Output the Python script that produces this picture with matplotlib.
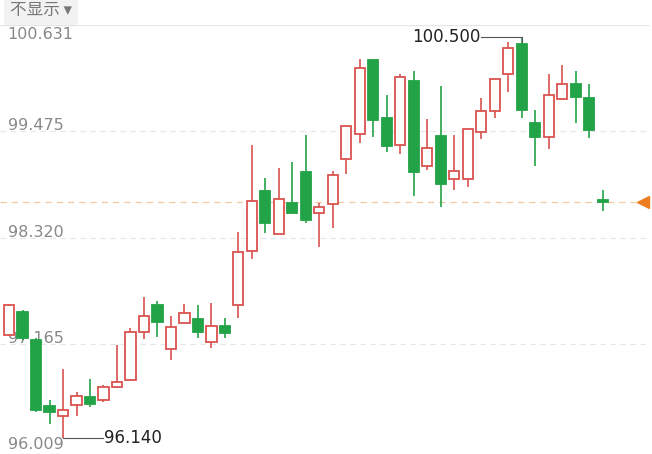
import numpy as np
import matplotlib.pyplot as plt
from matplotlib.patches import Rectangle

plt.rcParams['font.family'] = ['Noto Sans CJK SC', 'DejaVu Sans']

# OHLC
opens  = [97.263, 97.513, 97.208, 96.489, 96.380, 96.500, 96.587, 96.555, 96.695, 96.771,
          97.294, 97.590, 97.109, 97.392, 97.436, 97.185, 97.360, 97.590, 98.177, 98.831,
          98.362, 98.700, 99.027, 98.591, 98.679, 99.169, 99.442, 100.248, 99.616, 99.322,
          100.019, 99.093, 99.420, 98.951, 98.951, 99.463, 99.692, 100.096, 100.422, 99.561,
          99.409, 99.823, 99.987, 99.834, 98.733]
closes = [97.590, 97.230, 96.446, 96.424, 96.446, 96.598, 96.511, 96.695, 96.749, 97.294,
          97.469, 97.403, 97.349, 97.501, 97.294, 97.360, 97.283, 98.166, 98.722, 98.482,
          98.744, 98.591, 98.515, 98.657, 98.995, 99.529, 100.161, 99.594, 99.311, 100.063,
          99.027, 99.289, 98.907, 99.038, 99.496, 99.692, 100.041, 100.379, 99.703, 99.409,
          99.867, 99.987, 99.845, 99.485, 98.711]
highs  = [97.600, 97.535, 97.230, 96.555, 96.892, 96.640, 96.782, 96.717, 97.152, 97.338,
          97.676, 97.632, 97.469, 97.600, 97.590, 97.610, 97.447, 98.384, 99.322, 98.962,
          99.071, 99.136, 99.431, 98.700, 99.038, 99.529, 100.259, 100.248, 99.867, 100.096,
          100.128, 99.605, 99.965, 99.431, 99.496, 99.834, 100.041, 100.444, 100.500, 99.703,
          100.096, 100.194, 100.128, 99.987, 98.842]
lows   = [97.250, 97.208, 96.424, 96.293, 96.140, 96.380, 96.478, 96.533, 96.684, 96.771,
          97.218, 97.240, 96.989, 97.392, 97.229, 97.120, 97.229, 97.447, 98.090, 98.373,
          98.362, 98.591, 98.482, 98.221, 98.428, 99.006, 99.343, 99.409, 99.245, 99.224,
          98.766, 99.049, 98.657, 98.842, 98.864, 99.387, 99.616, 99.899, 99.616, 99.093,
          99.278, 99.812, 99.561, 99.398, 98.613]
last_price = 98.711
ymin, ymax = 96.009, 100.631
grid_levels = [99.475, 98.320, 97.165]
axis_labels = ['100.631', '99.475', '98.320', '97.165', '96.009']

RED = '#d9534f'
GREEN = '#22a347'

fig = plt.figure(figsize=(6.52, 4.54), dpi=100)
ax = fig.add_axes([0, 4 / 454, 650 / 652, 425 / 454])
ax.set_xlim(-0.67, 47.5)
ax.set_ylim(ymin, ymax)
ax.axis('off')

for lv in grid_levels:
    ax.axhline(lv, color='#e6e6e6', lw=0.8, ls=(0, (5, 4)), zorder=0)
ax.axhline(ymax, color='#e6e6e6', lw=1, zorder=0)
ax.axhline(last_price, xmax=0.985, color='#f3c9a0', lw=0.9, ls=(0, (5, 4)), zorder=0)

w = 0.75
for i, (o, c, h, l) in enumerate(zip(opens, closes, highs, lows)):
    up = c >= o
    col = RED if up else GREEN
    lo, hi = min(o, c), max(o, c)
    ax.vlines(i, l, lo, color=col, lw=1.2, zorder=2)
    ax.vlines(i, hi, h, color=col, lw=1.2, zorder=2)
    hgt = max(hi - lo, 0.02)
    ax.add_patch(Rectangle((i - w / 2, lo), w, hgt, facecolor='white' if up else col,
                           edgecolor=col, lw=1.3, zorder=3))

# y labels inside the plot
for lab in axis_labels:
    v = float(lab)
    va = 'top' if v == ymax else 'baseline'
    yy = v - 0.02 if v == ymax else v + 0.01
    ax.text(-0.1, yy, lab, fontsize=11.5, color='#888888', va=va, ha='left', zorder=1,
            family='DejaVu Sans')

# max / min markers
imax = int(np.argmax(highs))
imin = int(np.argmin(lows))
ax.plot([imax - 3, imax, imax], [highs[imax], highs[imax], highs[imax] - 0.05], color='#555555', lw=0.8)
ax.text(imax - 3.05, highs[imax], f'{highs[imax]:.3f}', fontsize=12, ha='right', va='center', color='#222222',
        family='DejaVu Sans')
ax.plot([imin, imin + 3], [lows[imin], lows[imin]], color='#555555', lw=0.8)
ax.text(imin + 3.05, lows[imin], f'{lows[imin]:.3f}', fontsize=12, ha='left', va='center', color='#222222',
        family='DejaVu Sans')

# last price marker
ax.plot([47.0], [last_price], marker='<', color='#ee7d22', markersize=9, clip_on=False)

fig.text(0.015, 1 - 11 / 454, '不显示 ▾', fontsize=12, color='#777777', va='center', ha='left',
         bbox=dict(boxstyle='square,pad=0.35', facecolor='#f2f2f2', edgecolor='none'))

fig.savefig('out.png', dpi=100)
